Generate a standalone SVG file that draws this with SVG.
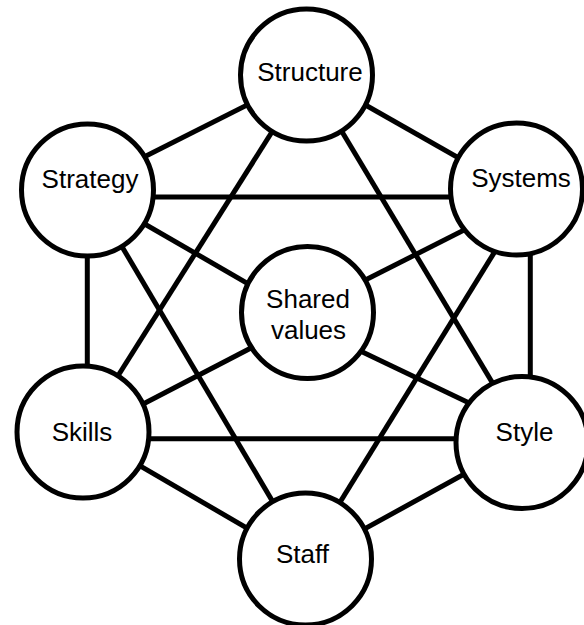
<svg xmlns="http://www.w3.org/2000/svg" width="584" height="625" viewBox="0 0 584 625">
  <style>
    .edge { stroke: #000; stroke-width: 5; fill: none; }
    .node circle { fill: #fff; stroke: #000; stroke-width: 5; }
    .node text { font-family: "Liberation Sans", Arial, Helvetica, sans-serif; font-size: 26px; fill: #000; text-anchor: middle; }
  </style>
  <rect width="584" height="625" fill="#fff"/>

  <!-- connectors, drawn first so the white node discs cover their ends -->
  <g id="connectors">
    <line class="edge" x1="87.5" y1="185.6" x2="306.5" y2="75"/>
    <line class="edge" x1="306.5" y1="71.5" x2="516.5" y2="190.8"/>
    <line class="edge" x1="87.5" y1="197" x2="516.5" y2="197"/>
    <line class="edge" x1="87.3" y1="190" x2="87.3" y2="432"/>
    <line class="edge" x1="530.3" y1="189" x2="530.3" y2="442"/>
    <line class="edge" x1="83" y1="438.7" x2="522" y2="438.7"/>
    <line class="edge" x1="83" y1="432.6" x2="305.5" y2="562.2"/>
    <line class="edge" x1="305.5" y1="561.4" x2="522" y2="442.3"/>
    <line class="edge" x1="87.5" y1="191" x2="307.5" y2="318"/>
    <line class="edge" x1="516.5" y1="203.5" x2="307.5" y2="309.3"/>
    <line class="edge" x1="83" y1="435.2" x2="307.5" y2="318.6"/>
    <line class="edge" x1="522" y1="428.3" x2="307.5" y2="325.7"/>
    <line class="edge" x1="307.9" y1="75" x2="82.5" y2="432"/>
    <line class="edge" x1="308" y1="75" x2="528.2" y2="442.5"/>
    <line class="edge" x1="88.5" y1="190" x2="307.8" y2="561"/>
    <line class="edge" x1="533.5" y1="189" x2="303.7" y2="561"/>
  </g>

  <g id="structure" class="node">
    <circle cx="306.5" cy="75" r="66"/>
    <text x="310" y="81">Structure</text>
  </g>
  <g id="strategy" class="node">
    <circle cx="87.5" cy="190" r="66"/>
    <text x="90" y="188">Strategy</text>
  </g>
  <g id="systems" class="node">
    <circle cx="516.5" cy="189" r="66"/>
    <text x="521" y="187">Systems</text>
  </g>
  <g id="shared-values" class="node">
    <circle cx="307.5" cy="312.5" r="66"/>
    <text x="308" y="308">Shared</text>
    <text x="308.5" y="339">values</text>
  </g>
  <g id="skills" class="node">
    <circle cx="83" cy="432" r="66"/>
    <text x="82" y="441">Skills</text>
  </g>
  <g id="style" class="node">
    <circle cx="522" cy="442.5" r="66"/>
    <text x="524.5" y="441">Style</text>
  </g>
  <g id="staff" class="node">
    <circle cx="305.5" cy="559" r="66"/>
    <text x="302.5" y="563">Staff</text>
  </g>
</svg>
